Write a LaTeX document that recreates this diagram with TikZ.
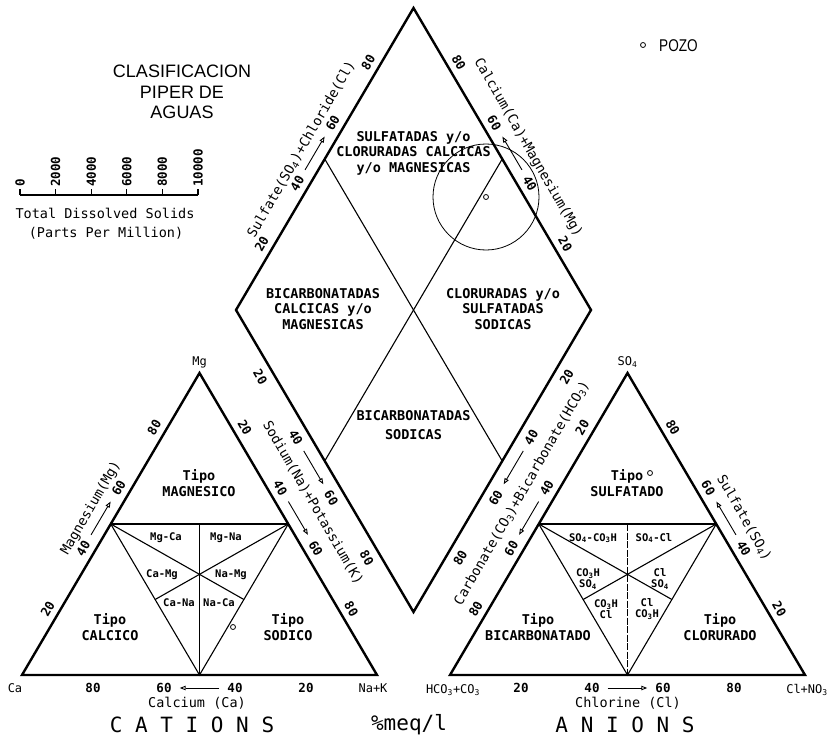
\documentclass[tikz,border=0pt]{standalone}
\usepackage{fontspec}
\setmainfont{Liberation Sans}
\newfontfamily\plotfont{DejaVu Sans Mono}
\usepackage{tikz}
\usetikzlibrary{math}
\usetikzlibrary{calc}
\usetikzlibrary{arrows.meta}
\def\chemsub#1{\textsubscript{#1}}
\def\symbsulf{SO\chemsub{4}}
\def\symbcarb{CO\chemsub{3}}

\begin{document}
\begin{tikzpicture}[x=1pt, y=-1pt,
    outline/.style={line width=2.4pt},
    field/.style={line width=1.1pt},
    tick/.style={inner sep=0pt, font=\plotfont\bfseries\fontsize{12.5}{12.5}\selectfont},
    corner/.style={inner sep=0pt, font=\plotfont\fontsize{12}{12}\selectfont},
    axtitle/.style={inner sep=0pt, font=\plotfont\fontsize{13.5}{14}\selectfont},
    region/.style={inner sep=0pt, align=center, font=\plotfont\bfseries\fontsize{13.5}{15.5}\selectfont},
    cell/.style={inner sep=0pt, align=center, font=\plotfont\bfseries\fontsize{10.5}{11}\selectfont},
    bigword/.style={inner sep=0pt, font=\plotfont\fontsize{21}{21}\selectfont},
    axarrow/.style={line width=0.9pt, shorten >=8pt, shorten <=8pt, -{Triangle[open, length=6pt, width=4.5pt]}},
    sample/.style={line width=0.8pt},
  ]
  \tikzmath{
    \side = 355;
    \high = 302;
    \ybase = 675;
    \xcat = 22;
    \xani = 450;
  }
  \useasboundingbox (0, 0) rectangle (832, 741);

  % corners
  \coordinate (Ca) at (\xcat, \ybase);
  \coordinate (NaK) at (\xcat + \side, \ybase);
  \coordinate (Mg) at (\xcat + \side/2, \ybase - \high);
  \coordinate (HCO) at (\xani, \ybase);
  \coordinate (ClN) at (\xani + \side, \ybase);
  \coordinate (SO) at (\xani + \side/2, \ybase - \high);
  \coordinate (B) at ($(NaK)!0.5!(HCO) + (0, -63)$);
  \coordinate (L) at ($(B) + (-\side/2, -\high)$);
  \coordinate (R) at ($(B) + (\side/2, -\high)$);
  \coordinate (T) at ($(B) + (0, -2*\high)$);

  % triangles and diamond
  \draw [outline] (Ca) -- (NaK) -- (Mg) -- cycle;
  \draw [outline] (HCO) -- (ClN) -- (SO) -- cycle;
  \draw [outline] (B) -- (R) -- (T) -- (L) -- cycle;

  % fields in the diamond
  \draw [field] ($(L)!0.5!(T)$) -- ($(R)!0.5!(B)$);
  \draw [field] ($(R)!0.5!(T)$) -- ($(L)!0.5!(B)$);

  % fields in the cation triangle
  \coordinate (cl) at ($(Ca)!0.5!(Mg)$);
  \coordinate (cr) at ($(NaK)!0.5!(Mg)$);
  \coordinate (cb) at ($(Ca)!0.5!(NaK)$);
  \coordinate (ct) at ($(cl)!0.5!(cr)$);
  \draw [field, line width=1.6pt] (cl) -- (cr);
  \draw [field] (cl) -- (cb) -- (cr);
  \draw [field] (ct) -- (cb);
  \draw [field] (cl) -- ($(cr)!0.5!(cb)$);
  \draw [field] (cr) -- ($(cl)!0.5!(cb)$);

  % fields in the anion triangle
  \coordinate (al) at ($(HCO)!0.5!(SO)$);
  \coordinate (ar) at ($(ClN)!0.5!(SO)$);
  \coordinate (ab) at ($(HCO)!0.5!(ClN)$);
  \coordinate (at) at ($(al)!0.5!(ar)$);
  \draw [field, line width=1.6pt] (al) -- (ar);
  \draw [field] (al) -- (ab) -- (ar);
  \draw [field, dash pattern=on 7pt off 1.5pt] (at) -- (ab);
  \draw [field] (al) -- ($(ar)!0.5!(ab)$);
  \draw [field] (ar) -- ($(al)!0.5!(ab)$);

  % side numbers
  \foreach \v [evaluate=\v as \tpos using \v/100] in {20, 40, 60, 80} {
    \node [tick, rotate=60] (nmg\v) at ($(Ca)!\tpos!(Mg) + (-9.9, -5.8)$) {\v};
    \node [tick, rotate=-60] (nna\v) at ($(Mg)!\tpos!(NaK) + (9.9, -5.8)$) {\v};
    \node [tick, rotate=60] (nco\v) at ($(SO)!\tpos!(HCO) + (-9.9, -5.8)$) {\v};
    \node [tick, rotate=-60] (nso\v) at ($(ClN)!\tpos!(SO) + (9.9, -5.8)$) {\v};
    \node [tick, rotate=60] (dul\v) at ($(L)!\tpos!(T) + (-9.9, -5.8)$) {\v};
    \node [tick, rotate=-60] (dur\v) at ($(R)!\tpos!(T) + (9.9, -5.8)$) {\v};
    \node [tick, rotate=-60] (dll\v) at ($(L)!\tpos!(B) + (-11.2, 6.6)$) {\v};
    \node [tick, rotate=60] (dlr\v) at ($(R)!\tpos!(B) + (11.2, 6.6)$) {\v};
    \node [tick] (bca\v) at ($(NaK)!\tpos!(Ca) + (0, 13)$) {\v};
    \node [tick] (bcl\v) at ($(HCO)!\tpos!(ClN) + (0, 13)$) {\v};
  }

  % arrows from 40 to 60
  \foreach \p in {nmg, nna, nco, nso, dul, dur, dll, dlr, bca, bcl} {
    \draw [axarrow] (\p40) -- (\p60);
  }

  % axis titles
  \node [axtitle, rotate=60] (tmg) at ($(Ca)!0.51!(Mg) + (-21.5, -12.7)$) {Magnesium(Mg)};
  \node [axtitle, rotate=-60] (tna) at ($(Mg)!0.484!(NaK) + (27.6, -16.2)$) {Sodium(Na)+Potassium(K)};
  \node [axtitle, rotate=60] (tco) at ($(SO)!0.448!(HCO) + (-25.9, -15.2)$) {Carbonate(\symbcarb)+Bicarbonate(H\symbcarb)};
  \node [axtitle, rotate=-60] (tso) at ($(SO)!0.526!(ClN) + (23.3, -13.7)$) {Sulfate(\symbsulf)};
  \node [axtitle, rotate=60] (tsc) at ($(L)!0.49!(T) + (-21.5, -12.7)$) {Sulfate(\symbsulf)+Chloride(Cl)};
  \node [axtitle, rotate=-60] (tcm) at ($(R)!0.49!(T) + (24.1, -14.2)$) {Calcium(Ca)+Magnesium(Mg)};
  \node [axtitle] (tcal) at (197, 703) {Calcium (Ca)};
  \node [axtitle] (tchl) at (628, 703) {Chlorine (Cl)};

  % corner labels
  \node [corner] (kmg) at ($(Mg) + (0, -11)$) {Mg};
  \node [corner] (kso) at ($(SO) + (0, -11)$) {\symbsulf};
  \node [corner] (kca) at (15, 688) {Ca};
  \node [corner] (kna) at (373, 688) {Na+K};
  \node [corner] (khc) at (453, 690) {H\symbcarb+\symbcarb};
  \node [corner] (kcl) at (807, 690) {Cl+NO\chemsub{3}};

  % water types
  \node [region] (reg1) at ($(T) + (0, 145)$) {SULFATADAS y/o\\CLORURADAS CALCICAS\\y/o MAGNESICAS};
  \node [region] (reg2) at ($(L) + (87, -1)$) {BICARBONATADAS\\CALCICAS y/o\\MAGNESICAS};
  \node [region] (reg3) at ($(R) + (-88, -1)$) {CLORURADAS y/o\\SULFATADAS\\SODICAS};
  \node [region] (reg4) at ($(B) + (0, -187)$) {BICARBONATADAS\\[4pt]SODICAS};
  \node [region] (tmag) at (199, 483) {Tipo\\MAGNESICO};
  \node [region] (tcac) at (110, 627) {Tipo\\CALCICO};
  \node [region] (tsod) at (288, 627) {Tipo\\SODICO};
  \node [region] (tsul) at (627, 483) {Tipo\\SULFATADO};
  \node [region] (tbic) at (538, 627) {Tipo\\BICARBONATADO};
  \node [region] (tclo) at (720, 627) {Tipo\\CLORURADO};

  % cells
  \node [cell] (cmgca) at (166, 538) {Mg-Ca};
  \node [cell] (cmgna) at (226, 538) {Mg-Na};
  \node [cell] (ccamg) at (162, 575) {Ca-Mg};
  \node [cell] (cnamg) at (231, 575) {Na-Mg};
  \node [cell] (ccana) at (179, 603) {Ca-Na};
  \node [cell] (cnaca) at (219, 603) {Na-Ca};
  \node [cell] (csoco) at (593, 538) {\symbsulf-\symbcarb H};
  \node [cell] (csocl) at (654, 538) {\symbsulf-Cl};
  \node [cell] (ccoso) at (588, 579) {\symbcarb H\\\symbsulf};
  \node [cell] (cclso) at (660, 579) {Cl\\\symbsulf};
  \node [cell] (ccocl) at (606, 609) {\symbcarb H\\Cl};
  \node [cell] (cclco) at (647, 609) {Cl\\\symbcarb H};

  % sample
  \draw [sample] (486, 197) circle [radius=53pt];
  \foreach \x/\y in {486/197, 233/627, 650/473, 643/45} {
    \draw [sample] (\x, \y) circle [radius=2.5pt];
  }
  \node [anchor=west, inner sep=0pt, font=\fontsize{17}{17}\selectfont] (pozo) at (659, 46) {\scalebox{0.8}[1]{POZO}};

  % heading
  \node [align=center, inner sep=0pt, font=\fontsize{18}{20.5}\selectfont] (head) at (182, 92) {CLASIFICACION\\PIPER DE\\AGUAS};

  % dissolved solids scale
  \draw [line width=1.2pt] (20, 195) -- (198, 195);
  \foreach \k [count=\i from 0] in {0, 2000, 4000, 6000, 8000, 10000} {
    \draw [line width=1.2pt] (20 + \i*35.6, 195) -- ++(0, -6);
    \node [tick, anchor=west, rotate=90] (tds\i) at (20 + \i*35.6, 187) {\k};
  }
  \node [axtitle] (tdsa) at (105, 213) {Total Dissolved Solids};
  \node [axtitle] (tdsb) at (106, 233) {(Parts Per Million)};

  % bottom words
  \node [bigword] (wcat) at (192, 725) {C A T I O N S};
  \node [bigword] (wmeq) at (409, 725) {\%meq/l};
  \node [bigword] (wani) at (625, 725) {A N I O N S};
\end{tikzpicture}
\end{document}
